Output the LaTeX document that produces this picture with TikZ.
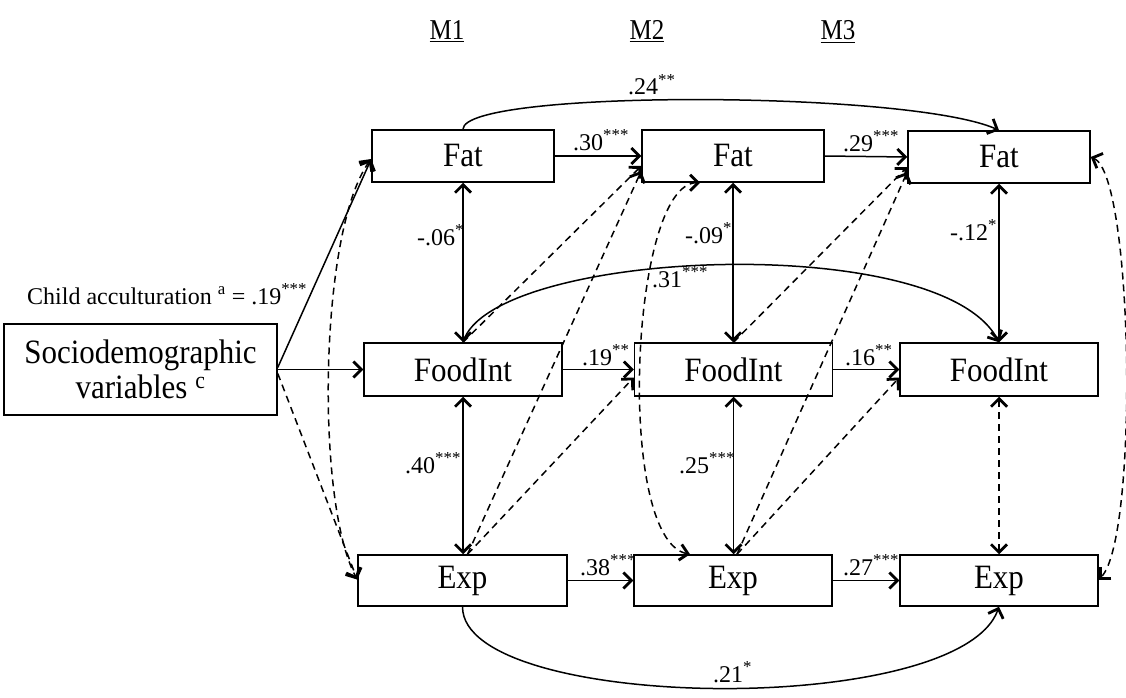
\documentclass[tikz,border=0pt]{standalone}
\usepackage{fontspec}
\usepackage{graphicx}
\setmainfont{Liberation Serif}
\usetikzlibrary{arrows.meta}
% slightly taller lettering inside the boxes
\newcommand{\boxtext}[1]{\scalebox{1}[1.1]{#1}}
\begin{document}
\begin{tikzpicture}[x=1pt,y=-1pt,
  box/.style={draw,line width=1.5pt,minimum height=52pt,inner sep=0pt,font=\fontsize{31}{35}\selectfont},
  lbl/.style={inner sep=0pt,anchor=base west,font=\fontsize{24}{28}\selectfont},
  hdr/.style={inner sep=0pt,anchor=base,font=\fontsize{25}{28}\selectfont},
  link/.style={line width=1.5pt},
  cov/.style={line width=1.5pt,dash pattern=on 7pt off 5pt},
  >={Straight Barb[length=8pt,width=16pt,line width=2.8pt]}]
\useasboundingbox (0,0) rectangle (1126,698);

% wave headers
\node[hdr] (m1) at (447,40) {\scalebox{1}[1.15]{\underline{M1}}};
\node[hdr] (m2) at (647,40) {\scalebox{1}[1.15]{\underline{M2}}};
\node[hdr] (m3) at (838,40) {\scalebox{1}[1.15]{\underline{M3}}};

% covariate block
\node[box,minimum width=273pt,minimum height=91pt,align=center] (s) at (140.5,369.5) {\boxtext{Sociodemographic}\\\boxtext{variables \textsuperscript{c}}};

% Fat row
\node[box,minimum width=182pt] (f1) at (463,156) {\boxtext{Fat}};
\node[box,minimum width=182pt] (f2) at (733,156) {\boxtext{Fat}};
\node[box,minimum width=182pt] (f3) at (999,157) {\boxtext{Fat}};
% FoodInt row
\node[box,minimum width=198pt,minimum height=53pt] (i1) at (463,369.5) {\boxtext{FoodInt}};
\node[box,minimum width=198pt,minimum height=53pt] (i2) at (733.5,369.5) {\boxtext{FoodInt}};
\node[box,minimum width=198pt,minimum height=53pt] (i3) at (999,369.5) {\boxtext{FoodInt}};
% Exp row
\node[box,minimum width=209pt,minimum height=51pt] (e1) at (462.5,580.5) {\boxtext{Exp}};
\node[box,minimum width=198pt,minimum height=51pt] (e2) at (733,580.5) {\boxtext{Exp}};
\node[box,minimum width=198pt,minimum height=51pt] (e3) at (999,580.5) {\boxtext{Exp}};

% covariate paths
\draw[link,->] ([yshift=2pt]s.east) -- ([yshift=-3pt]f1.west);
\draw[link,->] (s.east) -- (i1.west);
\draw[cov,->] ([yshift=-4pt]s.east) -- ([yshift=1pt]e1.west);
\node[lbl] (lchild) at (27,304) {Child acculturation \textsuperscript{a} = .19\textsuperscript{***}};

% autoregressive paths
\draw[link,->] (f1.east) -- (f2.west);
\draw[link,->] (f2.east) -- (f3.west);
\draw[link,->] (i1.east) -- (i2.west);
\draw[link,->] (i2.east) -- (i3.west);
\draw[link,->] (e1.east) -- (e2.west);
\draw[link,->] (e2.east) -- (e3.west);
\node[lbl] (l30) at (573,150) {.30\textsuperscript{***}};
\node[lbl] (l29) at (843,151) {.29\textsuperscript{***}};
\node[lbl] (l19) at (582,365) {.19\textsuperscript{**}};
\node[lbl] (l16) at (845,365) {.16\textsuperscript{**}};
\node[lbl] (l38) at (580,575) {.38\textsuperscript{***}};
\node[lbl] (l27) at (843,575) {.27\textsuperscript{***}};

% lag-2 paths
\draw[link,->] (f1.north) .. controls +(0,-40) and +(-90,-40) .. (f3.north);
\draw[link,->] (i1.north) .. controls +(27,-93) and +(-59,-113) .. (i3.north);
\draw[link,->] (e1.south) .. controls +(0,105) and +(-40,112) .. (e3.south);
\node[lbl] (l24) at (628,95) {.24\textsuperscript{**}};
\node[lbl] (l31) at (652,287) {.31\textsuperscript{***}};
\node[lbl] (l21) at (713,682) {.21\textsuperscript{*}};

% within-wave covariances
\draw[link,<->] (f1.south) -- (i1.north);
\draw[link,<->] (f2.south) -- (f2.south |- i2.north);
\draw[link,<->] (f3.south) -- (f3.south |- i3.north);
\draw[link,<->] (i1.south) -- (i1.south |- e1.north);
\draw[link,<->] (i2.south) -- (i2.south |- e2.north);
\draw[cov,<->] (i3.south) -- (e3.north);
\node[lbl] (l06) at (417,245) {-.06\textsuperscript{*}};
\node[lbl] (l09) at (685,243) {-.09\textsuperscript{*}};
\node[lbl] (l12) at (950,240) {-.12\textsuperscript{*}};
\node[lbl] (l40) at (405,473) {.40\textsuperscript{***}};
\node[lbl] (l25) at (679,473) {.25\textsuperscript{***}};

\draw[cov,<->] ([yshift=-3pt]f1.west) .. controls +(-52,70) and +(-42,-78) .. ([yshift=1pt]e1.west);
\draw[cov,<->] ([xshift=-33pt]f2.south) .. controls +(-70,0) and +(-75,-15) .. ([xshift=-43pt]e2.north);
\draw[cov,<->] (f3.east) .. controls +(43,18) and +(40,-40) .. ([yshift=1pt]e3.east);

% cross-lagged paths
\draw[cov,->] (i1.north) -- ([yshift=-10pt]f2.west);
\draw[cov,->] ([xshift=5pt]e1.north) -- ([yshift=-15pt]f2.west);
\draw[cov,->] ([xshift=5pt]e1.north) -- ([yshift=-8pt]i2.west);
\draw[cov,->] (i2.north) -- ([yshift=-10pt]f3.west);
\draw[cov,->] ([xshift=4pt]e2.north) -- ([yshift=-15pt]f3.west);
\draw[cov,->] ([xshift=4pt]e2.north) -- ([yshift=-8pt]i3.west);
\end{tikzpicture}
\end{document}
